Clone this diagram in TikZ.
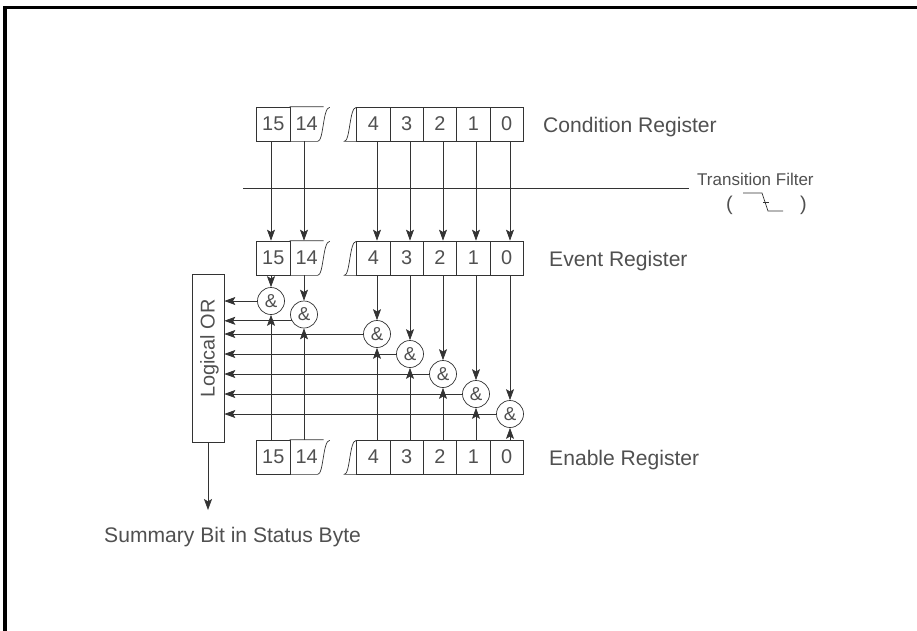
\documentclass[tikz,border=0pt]{standalone}
\usepackage{fontspec}
\setmainfont{Liberation Sans}
\setsansfont{Liberation Sans}
\usetikzlibrary{arrows.meta}
\definecolor{inkGray} {HTML}{333333}
\definecolor{textGray}{HTML}{505050}
\tikzset{
  font=\sffamily,
  arrow/.style={-{Stealth[length=3.3mm,width=2.4mm,inset=0.7mm]},draw=inkGray,line width=0.6pt},
  wire/.style={draw=inkGray,line width=0.6pt},
  frame/.style={draw=black,line width=2.6pt},
  bit/.style={rectangle,draw=inkGray,line width=0.6pt,minimum width=10mm,minimum height=10.2mm,
    inner sep=0pt,text=textGray,font=\sffamily\fontsize{17}{17}\selectfont},
  openbit/.style={bit,draw=none},
  andgate/.style={circle,draw=inkGray,line width=0.6pt,minimum size=8.1mm,inner sep=0pt,
    text=textGray,font=\sffamily\fontsize{16}{16}\selectfont},
  orbox/.style={rectangle,draw=inkGray,line width=0.6pt,minimum width=9.6mm,minimum height=50.4mm,inner sep=0pt},
  regname/.style={anchor=base west,inner sep=0pt,text=textGray,font=\sffamily\fontsize{18}{20}\selectfont},
  smallname/.style={anchor=base west,inner sep=0pt,text=textGray,font=\sffamily\fontsize{14.5}{16}\selectfont},
}

\begin{document}
\begin{tikzpicture}[x=0.03cm,y=-0.03cm]
\useasboundingbox (0,0) rectangle (917,630);
\draw[frame] (5,632) -- (5,7.3) -- (919,7.3);

% condition register
\node[bit]     (c15) at (273.3,124) {15};
\node[openbit] (c14) at (306.7,124) {14};
\node[bit]     (c4)  at (373.3,124) {4};
\node[bit]     (c3)  at (406.7,124) {3};
\node[bit]     (c2)  at (440.0,124) {2};
\node[bit]     (c1)  at (473.3,124) {1};
\node[bit]     (c0)  at (506.7,124) {0};
\node[regname] (cname) at (543,132) {Condition Register};

% event register
\node[bit]     (e15) at (273.3,258) {15};
\node[openbit] (e14) at (306.7,258) {14};
\node[bit]     (e4)  at (373.3,258) {4};
\node[bit]     (e3)  at (406.7,258) {3};
\node[bit]     (e2)  at (440.0,258) {2};
\node[bit]     (e1)  at (473.3,258) {1};
\node[bit]     (e0)  at (506.7,258) {0};
\node[regname] (ename) at (549,266) {Event Register};

% enable register
\node[bit]     (n15) at (273.3,457) {15};
\node[openbit] (n14) at (306.7,457) {14};
\node[bit]     (n4)  at (373.3,457) {4};
\node[bit]     (n3)  at (406.7,457) {3};
\node[bit]     (n2)  at (440.0,457) {2};
\node[bit]     (n1)  at (473.3,457) {1};
\node[bit]     (n0)  at (506.7,457) {0};
\node[regname] (nname) at (549,465) {Enable Register};

% broken register edges
\foreach \r in {c,e,n}{
  \draw[wire] (\r14.north west) -- (\r14.north east)
    (\r14.south west) -- ([xshift=-1.8mm]\r14.south east)
    .. controls +(1.8mm,0) and +(-2.1mm,0) .. +(3.6mm,10.2mm);
  \draw[wire] (\r4.south west) -- ([xshift=-3.6mm]\r4.south west)
    .. controls +(1.8mm,0) and +(-2.1mm,0) .. +(3.6mm,10.2mm);
}

% transition filter
\coordinate (tfl) at (243,188);
\coordinate (tfr) at (689,188);
\draw[wire] (tfl) -- (tfr);
\node[smallname] (tfname) at (697,185) {Transition Filter};
\node[smallname,font=\sffamily\fontsize{17}{17}\selectfont] (tfopen)  at (726,210) {(};
\node[smallname,font=\sffamily\fontsize{17}{17}\selectfont] (tfclose) at (800,210) {)};
\draw[wire] (743,193) -- (762,193) -- (768,211) -- (783,211);
\draw[wire] (763,202) -- (769,202);

% and gates
\node[andgate] (g15) at (271,301) {\&};
\node[andgate] (g14) at (304,314.5) {\&};
\node[andgate] (g4)  at (377,334) {\&};
\node[andgate] (g3)  at (410,354) {\&};
\node[andgate] (g2)  at (443,374) {\&};
\node[andgate] (g1)  at (476,394) {\&};
\node[andgate] (g0)  at (510,414) {\&};

% logical or
\node[orbox] (lor) at (208,358) {};
\node[rotate=90,anchor=base,inner sep=0pt,text=textGray,font=\sffamily\fontsize{17}{17}\selectfont]
  (lortext) at (214.5,348.5) {Logical OR};

% condition -> event
\draw[arrow] (c15.south -| g15) -- (e15.north -| g15);
\draw[arrow] (c14.south -| g14) -- (e14.north -| g14);
\draw[arrow] (c4.south -| g4) -- (e4.north -| g4);
\draw[arrow] (c3.south -| g3) -- (e3.north -| g3);
\draw[arrow] (c2.south -| g2) -- (e2.north -| g2);
\draw[arrow] (c1.south -| g1) -- (e1.north -| g1);
\draw[arrow] (c0.south -| g0) -- (e0.north -| g0);

% event -> gates
\draw[arrow] (e15.south -| g15) -- (g15.north);
\draw[arrow] (e14.south -| g14) -- (g14.north);
\draw[arrow] (e4.south -| g4) -- (g4.north);
\draw[arrow] (e3.south -| g3) -- (g3.north);
\draw[arrow] (e2.south -| g2) -- (g2.north);
\draw[arrow] (e1.south -| g1) -- (g1.north);
\draw[arrow] (e0.south -| g0) -- (g0.north);

% enable -> gates
\draw[arrow] (n15.north -| g15) -- (g15.south);
\draw[arrow] (n14.north -| g14) -- (g14.south);
\draw[arrow] (n4.north -| g4) -- (g4.south);
\draw[arrow] (n3.north -| g3) -- (g3.south);
\draw[arrow] (n2.north -| g2) -- (g2.south);
\draw[arrow] (n1.north -| g1) -- (g1.south);
\draw[arrow] (n0.north -| g0) -- (g0.south);

% gates -> logical or
\draw[arrow] (g15.west) -- (g15.west -| lor.east);
\draw[arrow] (g14.207) -- (g14.207 -| lor.east);
\draw[arrow] (g4.west) -- (g4.west -| lor.east);
\draw[arrow] (g3.west) -- (g3.west -| lor.east);
\draw[arrow] (g2.west) -- (g2.west -| lor.east);
\draw[arrow] (g1.west) -- (g1.west -| lor.east);
\draw[arrow] (g0.west) -- (g0.west -| lor.east);

% summary
\coordinate (sumtip) at (208,510);
\draw[arrow] (lor.south) -- (sumtip);
\node[regname] (sumname) at (104,542) {Summary Bit in Status Byte};

\end{tikzpicture}
\end{document}
